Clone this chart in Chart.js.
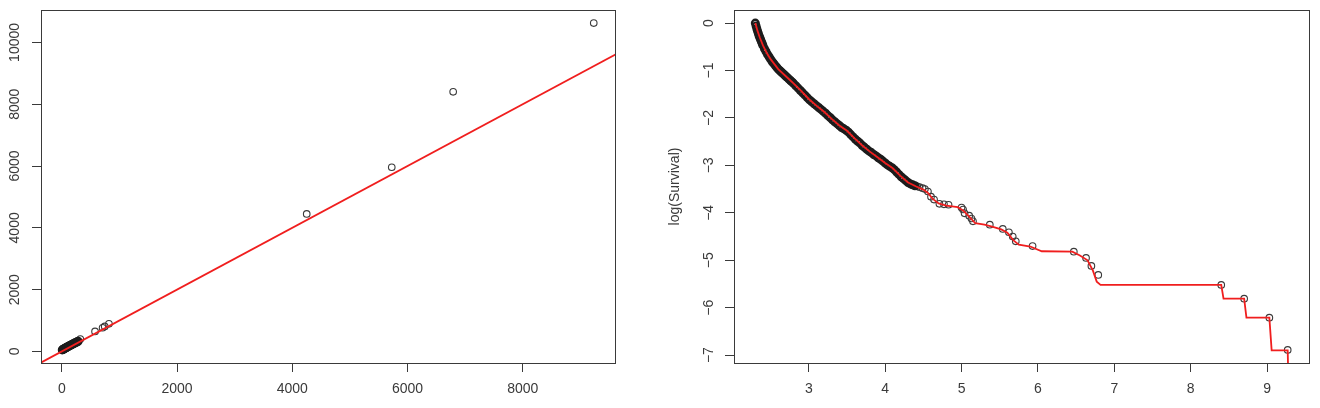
<!DOCTYPE html>
<html lang="en">
<head>
    <meta charset="UTF-8">
    <title>QQ plot and log survival</title>
    <script src="https://cdn.jsdelivr.net/npm/chart.js"></script>
    <style>
        body { margin: 0; background: #fff; }
        .wrap { position: relative; width: 1320px; height: 408px; }
        .wrap canvas { position: absolute; top: 0; }
        #qqChart { left: 0; }
        #survChart { left: 660px; }
    </style>
</head>
<body>
<div class="wrap">
    <canvas id="qqChart" width="660" height="408"></canvas>
    <canvas id="survChart" width="660" height="408"></canvas>
</div>

<script>
// ---- left panel: points and reference line ----
// the crowded bunch near the origin
const qqDenseX = [8, 15, 24, 33, 42, 52, 62, 72, 83, 94, 105, 117, 129, 141, 154, 167, 180, 194, 208,
                  222, 237, 252, 268, 284];
const qqDenseY = [50, 60, 70, 80, 90, 100, 110, 120, 132, 144, 156, 168, 180, 192, 205, 218, 231, 244, 258,
                  272, 286, 300, 314, 330];
// the points that stand apart
const qqX = [321, 577, 708, 745, 818, 4251, 5727, 6793, 9233];
const qqY = [400, 648, 767, 810, 896, 4449, 5961, 8402, 10626];
const qqLineX = [-400, 9700];
const qqLineY = [-400, 9700];
const qqXTicks = [0, 2000, 4000, 6000, 8000];
const qqYTicks = [0, 2000, 4000, 6000, 8000, 10000];

// ---- right panel: log survival ----
const denseX = [2.30, 2.31, 2.32, 2.33, 2.34, 2.35, 2.36, 2.37, 2.38, 2.39, 2.40, 2.42, 2.44, 2.46, 2.48,
                2.50, 2.52, 2.54, 2.56, 2.58, 2.60, 2.62, 2.64, 2.66, 2.68, 2.70, 2.72, 2.74, 2.76, 2.78,
                2.80, 2.83, 2.86, 2.89, 2.92, 2.95, 2.98, 3.01, 3.04, 3.07, 3.10, 3.13, 3.16, 3.19, 3.22,
                3.25, 3.28, 3.31, 3.34, 3.37, 3.40, 3.43, 3.46, 3.49, 3.52, 3.55, 3.58, 3.61, 3.64, 3.67,
                3.70, 3.73, 3.76, 3.79, 3.82, 3.85, 3.88, 3.91, 3.94, 3.97, 4.00, 4.03, 4.06, 4.09, 4.12,
                4.15, 4.18, 4.21, 4.24, 4.27, 4.30, 4.33, 4.36, 4.39];
const denseY = [0.00, -0.06, -0.12, -0.17, -0.22, -0.27, -0.31, -0.35, -0.39, -0.43, -0.47, -0.54, -0.60, -0.66, -0.71,
                -0.76, -0.81, -0.85, -0.89, -0.93, -0.97, -1.00, -1.03, -1.06, -1.09, -1.12, -1.15, -1.18, -1.21, -1.24,
                -1.27, -1.32, -1.37, -1.42, -1.47, -1.52, -1.57, -1.62, -1.66, -1.70, -1.74, -1.78, -1.82, -1.86, -1.90,
                -1.95, -1.99, -2.04, -2.08, -2.12, -2.16, -2.20, -2.23, -2.26, -2.30, -2.35, -2.40, -2.45, -2.49, -2.53,
                -2.58, -2.62, -2.66, -2.70, -2.73, -2.77, -2.80, -2.84, -2.87, -2.91, -2.95, -2.99, -3.02, -3.05, -3.09,
                -3.14, -3.19, -3.24, -3.28, -3.32, -3.36, -3.39, -3.41, -3.43];
const tailX = [4.42, 4.45, 4.49, 4.52, 4.56, 4.60, 4.64, 4.71, 4.77, 4.83, 5.00, 5.02, 5.04, 5.10, 5.13,
               5.15, 5.37, 5.54, 5.62, 5.67, 5.71, 5.93, 6.47, 6.63, 6.70, 6.79, 8.40, 8.70, 9.03, 9.27];
const tailY = [-3.44, -3.46, -3.48, -3.50, -3.55, -3.66, -3.72, -3.81, -3.82, -3.83, -3.89, -3.93, -4.01, -4.06, -4.12,
               -4.18, -4.25, -4.34, -4.41, -4.50, -4.60, -4.70, -4.82, -4.95, -5.12, -5.31, -5.52, -5.81, -6.21, -6.89];
const fitX = [2.30, 2.33, 2.36, 2.40, 2.45, 2.50, 2.60, 2.70, 2.80, 2.90, 3.00, 3.10, 3.20, 3.30, 3.40,
              3.50, 3.60, 3.70, 3.80, 3.90, 4.00, 4.10, 4.20, 4.30, 4.40, 4.50, 4.56, 4.62, 4.70, 4.80,
              4.95, 5.02, 5.10, 5.18, 5.30, 5.40, 5.52, 5.60, 5.68, 5.75, 5.90, 6.05, 6.45, 6.55, 6.65,
              6.72, 6.77, 6.82, 8.40, 8.43, 8.70, 8.73, 9.03, 9.06, 9.27, 9.28];
const fitY = [0.00, -0.17, -0.31, -0.47, -0.63, -0.76, -0.97, -1.12, -1.27, -1.43, -1.60, -1.74, -1.87, -2.02, -2.16,
              -2.27, -2.43, -2.58, -2.71, -2.83, -2.95, -3.06, -3.22, -3.36, -3.44, -3.51, -3.58, -3.70, -3.80, -3.85,
              -3.88, -3.95, -4.08, -4.22, -4.25, -4.29, -4.35, -4.42, -4.58, -4.67, -4.71, -4.81, -4.82, -4.90, -5.00,
              -5.22, -5.45, -5.52, -5.52, -5.81, -5.81, -6.21, -6.21, -6.90, -6.90, -7.60];
const survXTicks = [3, 4, 5, 6, 7, 8, 9];
const survYTicks = [-7, -6, -5, -4, -3, -2, -1, 0];

const INK = '#3a3a3a';
const DARK = '#1c1c1c';
const RED = '#f01e1e';
const FONT = '"Liberation Sans", Arial, sans-serif';

function pairs(xs, ys) {
    return xs.map((x, i) => ({ x: x, y: ys[i] }));
}

function fmt(v) {
    return v < 0 ? '\u2212' + Math.abs(v) : String(v);
}

// box around the plot region plus rotated y tick labels (R style)
const framePlugin = {
    id: 'frame',
    afterDraw(chart, args, opts) {
        const ctx = chart.ctx;
        const a = chart.chartArea;
        const y = chart.scales.y;
        ctx.save();
        ctx.strokeStyle = INK;
        ctx.lineWidth = 1;
        ctx.strokeRect(Math.round(a.left) + 0.5, Math.round(a.top) + 0.5,
                       Math.round(a.right - a.left), Math.round(a.bottom - a.top));
        ctx.fillStyle = INK;
        ctx.font = '14px ' + FONT;
        ctx.textAlign = 'center';
        ctx.textBaseline = 'middle';
        opts.yTicks.forEach(v => {
            ctx.save();
            ctx.translate(opts.labelX, y.getPixelForValue(v));
            ctx.rotate(-Math.PI / 2);
            ctx.fillText(fmt(v), 0, 0);
            ctx.restore();
        });
        ctx.restore();
    }
};

function makeScales(xr, yr, xTicks, yTicks, yWidth, yTitle) {
    return {
        x: {
            type: 'linear', min: xr[0], max: xr[1],
            afterFit: s => { s.height = 45; },
            afterBuildTicks: s => { s.ticks = xTicks.map(v => ({ value: v })); },
            border: { display: false },
            grid: { drawOnChartArea: false, color: INK, tickLength: 9, tickWidth: 1 },
            ticks: { color: INK, font: { family: FONT, size: 14 }, padding: 9,
                     maxRotation: 0, callback: v => fmt(v) }
        },
        y: {
            type: 'linear', min: yr[0], max: yr[1],
            afterFit: s => { s.width = yWidth; },
            afterBuildTicks: s => { s.ticks = yTicks.map(v => ({ value: v })); },
            border: { display: false },
            grid: { drawOnChartArea: false, color: INK, tickLength: 9, tickWidth: 1 },
            ticks: { display: false },
            title: yTitle ? { display: true, text: yTitle, color: INK,
                              font: { family: FONT, size: 14 }, padding: { top: 6.6 } } : { display: false }
        }
    };
}

function pointSet(data, color, bw) {
    return {
        type: 'scatter', data: data,
        pointStyle: 'circle', pointRadius: 3.3,
        pointBorderColor: color, pointBorderWidth: bw,
        pointBackgroundColor: 'rgba(0,0,0,0)', showLine: false
    };
}

function lineSet(data) {
    return {
        type: 'line', data: data, borderColor: RED, borderWidth: 1.8,
        pointRadius: 0, tension: 0, fill: false, clip: 0
    };
}

new Chart(document.getElementById('qqChart'), {
    type: 'scatter',
    data: {
        datasets: [
            lineSet(pairs(qqLineX, qqLineY)),
            pointSet(pairs(qqDenseX, qqDenseY), DARK, 2.4),
            pointSet(pairs(qqX, qqY), INK, 1.1)
        ]
    },
    options: {
        responsive: false, animation: false, devicePixelRatio: 1,
        layout: { padding: { top: 10, right: 45, bottom: 0, left: 0 } },
        plugins: { legend: { display: false }, tooltip: { enabled: false },
                   frame: { labelX: 15, yTicks: qqYTicks } },
        scales: makeScales([-361, 9602], [-373, 11049], qqXTicks, qqYTicks, 41, null)
    },
    plugins: [framePlugin]
});

new Chart(document.getElementById('survChart'), {
    type: 'scatter',
    data: {
        datasets: [
            lineSet(pairs(fitX, fitY)),
            pointSet(pairs(denseX, denseY), DARK, 2.4),
            pointSet(pairs(tailX, tailY), INK, 1.1)
        ]
    },
    options: {
        responsive: false, animation: false, devicePixelRatio: 1,
        layout: { padding: { top: 10, right: 11, bottom: 0, left: 0 } },
        plugins: { legend: { display: false }, tooltip: { enabled: false },
                   frame: { labelX: 49, yTicks: survYTicks } },
        scales: makeScales([2.021, 9.549], [-7.166, 0.276], survXTicks, survYTicks, 74, 'log(Survival)')
    },
    plugins: [framePlugin]
});
</script>
</body>
</html>
